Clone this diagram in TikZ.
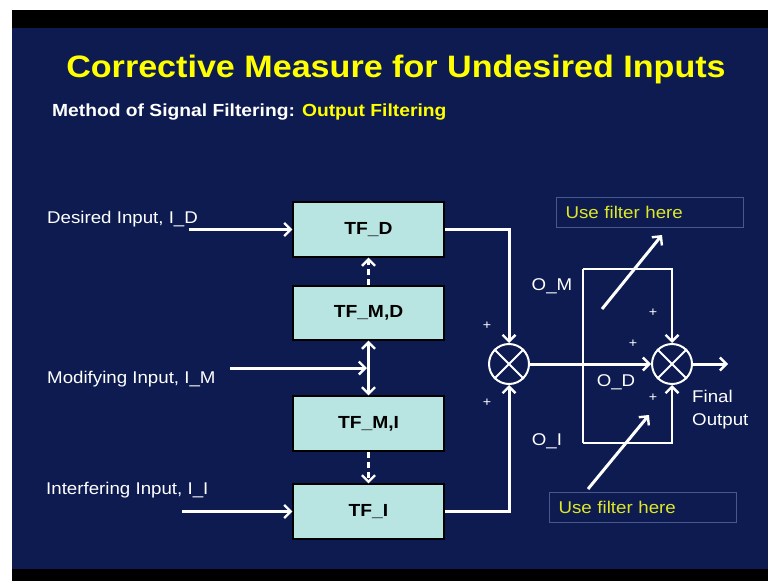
\documentclass[tikz,border=0pt]{standalone}
\usepackage{fontspec}
\setmainfont[FakeStretch=1.1]{Liberation Sans}
\usetikzlibrary{arrows.meta}
\definecolor{navy}{RGB}{13,27,80}
\definecolor{boxfill}{RGB}{184,228,226}
\definecolor{titleyellow}{RGB}{255,255,0}
\definecolor{noteyellow}{RGB}{222,232,40}
\definecolor{noteframe}{RGB}{72,88,140}
\begin{document}
\begin{tikzpicture}[x=1pt,y=-1pt,
  barb/.tip={Straight Barb[length=6.5pt,width=13pt,line width=2.4pt]},
  tfbox/.style={draw=black, line width=1.2pt, fill=boxfill, minimum width=151pt,
    minimum height=55pt, inner sep=0pt, text=black,
    font=\fontsize{17.5}{20}\selectfont\bfseries},
  sig/.style={draw=white, line width=3pt, -barb},
  sigline/.style={draw=white, line width=3pt},
  branch/.style={draw=white, line width=2.2pt},
  dashsig/.style={sig, dash pattern=on 6pt off 4pt},
  summer/.style={circle, draw=white, line width=2pt, minimum size=40pt, inner sep=0pt},
  lbl/.style={text=white, inner sep=0pt, font=\fontsize{17}{20}\selectfont},
  plus/.style={text=white, inner sep=0pt, font=\fontsize{13}{15}\selectfont},
  notebox/.style={draw=noteframe, line width=1pt, text=noteyellow, align=left,
    text width=169pt, inner xsep=9pt, minimum height=30pt, inner ysep=0pt,
    font=\fontsize{17}{20}\selectfont}
]
% page frame
\useasboundingbox (0,0) rectangle (768,581);
\fill[white] (0,0) rectangle (768,581);
\fill[black] (12,10) rectangle (768,581);
\fill[navy] (12,28) rectangle (768,569);

% heading
\node[text=titleyellow, font=\fontsize{31}{36}\selectfont\bfseries] (title) at (396,69)
  {Corrective Measure for Undesired Inputs};
\node[anchor=west, inner sep=0pt, font=\fontsize{17.5}{20}\selectfont\bfseries] (subtitle) at (52,112)
  {\textcolor{white}{Method of Signal Filtering:} \textcolor{titleyellow}{Output Filtering}};

% transfer-function blocks
\node[tfbox] (tfd)  at (368.5,229.5) {TF\_D};
\node[tfbox, minimum height=54pt] (tfmd) at (368.5,313)   {TF\_M,D};
\node[tfbox] (tfmi) at (368.5,423.5) {TF\_M,I};
\node[tfbox] (tfi)  at (368.5,511.5) {TF\_I};

% inputs
\node[lbl, anchor=west] (ld) at (47,219) {Desired Input, I\_D};
\node[lbl, anchor=west] (lm) at (47,379) {Modifying Input, I\_M};
\node[lbl, anchor=west] (li) at (46,490) {Interfering Input, I\_I};
\coordinate (din) at (189,229.5);
\coordinate (min) at (230,368);
\coordinate (mjoin) at (367,368);
\coordinate (iin) at (182,511.5);
\draw[sig] (din) -- (tfd.west);
\draw[sig] (min) -- (mjoin);
\draw[sig] (iin) -- (tfi.west);

% coupling between blocks
\draw[dashsig] (tfmd.north) -- (tfd.south);
\draw[sigline, barb-barb] (tfmd.south) -- (tfmi.north);
\draw[dashsig] (tfmi.south) -- (tfi.north);

% summing junctions
\node[summer] (s1) at (509,364) {};
\node[summer] (s2) at (672,364) {};
\foreach \s in {s1,s2}{
  \draw[white, line width=2pt] (\s.north west) -- (\s.south east);
  \draw[white, line width=2pt] (\s.north east) -- (\s.south west);
}
\draw[sig] (tfd.east) -| (s1.north);
\draw[sig] (tfi.east) -| (s1.south);
\draw[sig] (s1.east) -- (s2.west);
\coordinate (out) at (728,364);
\draw[sig] (s2.east) -- (out);

% branches to the output summer
\coordinate (bt) at (583,269);
\coordinate (bb) at (583,443);
\coordinate (ct) at (672,269);
\coordinate (cb) at (672,443);
\draw[branch] (bt) -- (bb);
\draw[branch, -barb] (bt) -- (ct) -- (s2.north);
\draw[branch, -barb] (bb) -- (cb) -- (s2.south);

% signal labels
\node[lbl] (om) at (552,286) {O\_M};
\node[lbl] (od) at (616,382) {O\_D};
\node[lbl] (oi) at (547,441) {O\_I};
\node[lbl, anchor=west, align=left, font=\fontsize{17}{23}\selectfont] (fo) at (692,410) {Final\\Output};
\node[plus] (p1) at (487,326) {+};
\node[plus] (p2) at (487,403) {+};
\node[plus] (p3) at (653,313) {+};
\node[plus] (p4) at (633,344) {+};
\node[plus] (p5) at (653,398) {+};

% filter notes
\node[notebox, anchor=north west] (nu) at (556,197) {Use filter here};
\node[notebox, anchor=north west] (nl) at (549,492) {Use filter here};
\coordinate (ua) at (602,309);
\coordinate (ub) at (662,235);
\coordinate (la) at (588,489);
\coordinate (lb) at (649,415);
\draw[sig] (ua) -- (ub);
\draw[sig] (la) -- (lb);
\end{tikzpicture}
\end{document}
